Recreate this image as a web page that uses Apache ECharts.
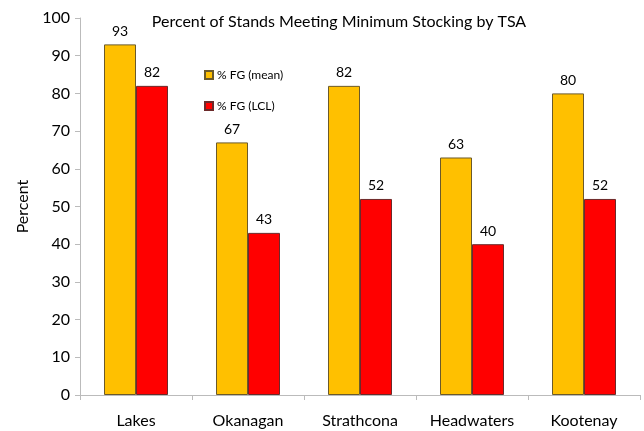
<!DOCTYPE html>
<html>
<head>
<meta charset="utf-8">
<script src="https://cdn.jsdelivr.net/npm/echarts@6/dist/echarts.min.js"></script>
<style>
  html, body { margin: 0; padding: 0; background: #fff; }
  #chart { width: 644px; height: 431px; }
</style>
</head>
<body>
<div id="chart"></div>
<script>
var categories = ['Lakes', 'Okanagan', 'Strathcona', 'Headwaters', 'Kootenay'];
var meanValues = [93, 67, 82, 63, 80];
var lclValues = [82, 43, 52, 40, 52];
var seriesNames = ['% FG (mean)', '% FG (LCL)'];

var font = 'Lato, "Open Sans", sans-serif';
var ec = echarts.init(document.getElementById('chart'));
ec.setOption({
  animation: false,
  textStyle: { fontFamily: font },
  title: {
    text: 'Percent of Stands Meeting Minimum Stocking by TSA',
    left: 334,
    textAlign: 'center',
    top: 9,
    textStyle: { fontFamily: font, fontSize: 16, fontWeight: 'normal', color: '#000' }
  },
  legend: {
    data: seriesNames,
    orient: 'vertical',
    left: 199,
    top: 64,
    itemGap: 19,
    itemWidth: 8,
    itemHeight: 8,
    icon: 'rect',
    textStyle: { fontFamily: font, fontSize: 12, color: '#000', padding: [0, 0, 0, -1] }
  },
  grid: { left: 80, right: 4, top: 18, bottom: 36 },
  xAxis: {
    type: 'category',
    data: categories,
    axisLine: { lineStyle: { color: '#bbb' } },
    axisTick: { show: true, alignWithLabel: false, length: 5, lineStyle: { color: '#bbb' } },
    axisLabel: { fontFamily: font, fontSize: 16, color: '#000', margin: 18 }
  },
  yAxis: {
    type: 'value',
    min: 0,
    max: 100,
    interval: 10,
    name: 'Percent',
    nameLocation: 'middle',
    nameGap: 48,
    nameTextStyle: { fontFamily: font, fontSize: 16, color: '#000' },
    axisLine: { show: true, lineStyle: { color: '#bbb' } },
    axisTick: { show: true, length: 5, lineStyle: { color: '#bbb' } },
    splitLine: { show: false },
    axisLabel: { fontFamily: font, fontSize: 16, color: '#000', margin: 10 }
  },
  series: [{
    name: seriesNames[0],
    type: 'bar',
    data: meanValues,
    barWidth: 32,
    barGap: '0%',
    itemStyle: { color: '#FFC000', borderColor: '#6b5a2a', borderWidth: 1 },
    label: { show: true, position: 'top', distance: 6, fontFamily: font, fontSize: 14, color: '#000' }
  }, {
    name: seriesNames[1],
    type: 'bar',
    data: lclValues,
    barWidth: 32,
    barGap: '0%',
    itemStyle: { color: '#FF0000', borderColor: '#6b2a2a', borderWidth: 1 },
    label: { show: true, position: 'top', distance: 6, fontFamily: font, fontSize: 14, color: '#000' }
  }]
});
</script>
</body>
</html>
